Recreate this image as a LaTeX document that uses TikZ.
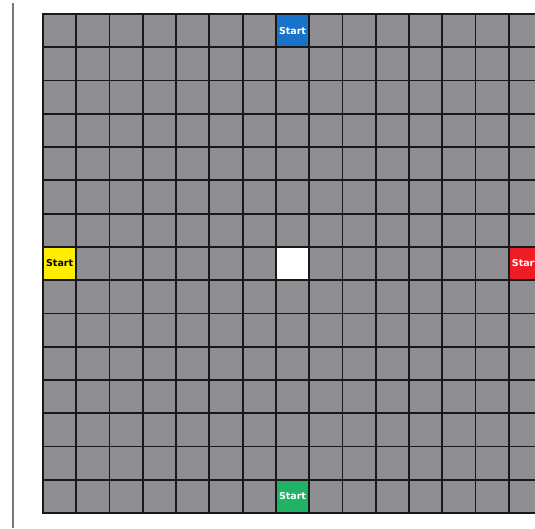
\documentclass[tikz,border=0pt]{standalone}
\usepackage{fontspec}
\setmainfont{DejaVu Sans}
\definecolor{cellgray}{RGB}{142,142,147}
\definecolor{gridline}{RGB}{25,25,25}
\definecolor{startblue}{RGB}{25,115,200}
\definecolor{startyellow}{RGB}{255,238,0}
\definecolor{startred}{RGB}{238,28,36}
\definecolor{startgreen}{RGB}{34,178,102}
\definecolor{sideline}{RGB}{120,120,120}
\tikzset{
  cellbox/.style={draw=gridline, line width=1.8pt, fill=cellgray, minimum width=33.27pt, minimum height=33.27pt, inner sep=0pt, anchor=center},
  startcell/.style={cellbox, font=\fontsize{9.5}{10}\selectfont\bfseries},
}
\begin{document}
\begin{tikzpicture}[x=1pt,y=-1pt]
\useasboundingbox (0,0) rectangle (535,528);
\fill[white] (0,0) rectangle (535,528);
\draw[sideline, line width=2pt] (13,3) -- (13,528);
\begin{scope}
\clip (0,0) rectangle (535,528);
\foreach \i in {0,...,14}{
  \foreach \j in {0,...,14}{
    \node[cellbox] (c\i-\j) at ({43+33.27*\i+16.635},{14+33.27*\j+16.635}) {};
  }
}
\node[cellbox, fill=white] (center) at ({43+33.27*7+16.635},{14+33.27*7+16.635}) {};
\node[startcell, fill=startblue, text=white] (startN) at ({43+33.27*7+16.635},{14+16.635}) {Start};
\node[startcell, fill=startgreen, text=white] (startS) at ({43+33.27*7+16.635},{14+33.27*14+16.635}) {Start};
\node[startcell, fill=startyellow, text=black] (startW) at ({43+16.635},{14+33.27*7+16.635}) {Start};
\node[startcell, fill=startred, text=white] (startE) at ({43+33.27*14+16.635},{14+33.27*7+16.635}) {Start};
\end{scope}
\end{tikzpicture}
\end{document}
